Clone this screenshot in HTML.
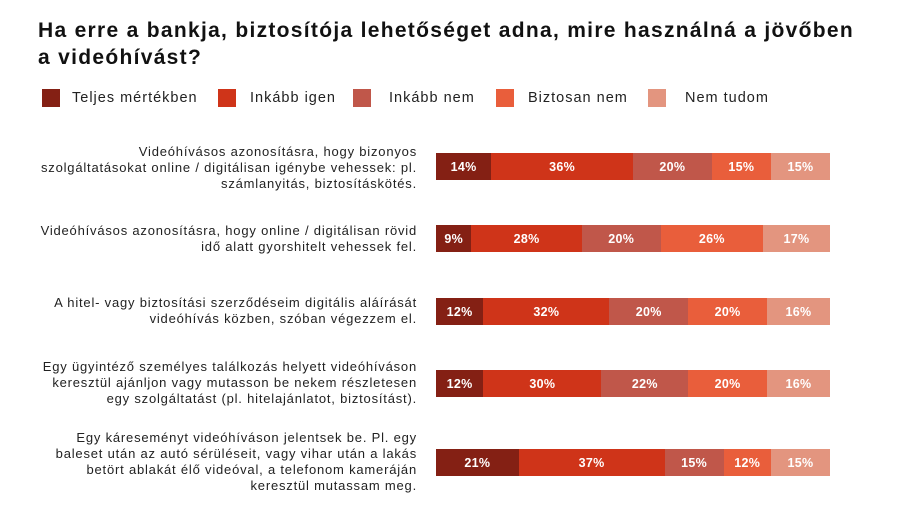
<!DOCTYPE html>
<html><head><meta charset="utf-8"><style>
body{margin:0;width:900px;height:520px;background:#fff;font-family:"Liberation Sans",sans-serif;position:relative;overflow:hidden;color:#111}
.t{position:absolute;left:38px;top:17px;font-size:21px;font-weight:bold;line-height:27px;width:860px;letter-spacing:1.3px;white-space:nowrap}
.lg{position:absolute;top:89px;height:18px;font-size:14.5px;line-height:18px;color:#222;letter-spacing:1px}
.lg i{position:absolute;left:0;top:0;width:18px;height:18px}
.lg span{position:absolute;white-space:nowrap}
.lab{position:absolute;right:483px;text-align:right;font-size:13px;line-height:16px;width:420px;color:#222;letter-spacing:0.8px;white-space:nowrap}
.bar{position:absolute;left:436px;width:394px;height:27px;display:flex}
.bar div{height:100%;color:#fff;font-weight:bold;font-size:12.5px;display:flex;align-items:center;justify-content:center;letter-spacing:0.3px}
.a{background:#842014}.b{background:#cf3419}.c{background:#c0574a}.d{background:#e95e3b}.e{background:#e3957f}
</style></head><body>
<div class="t">Ha erre a bankja, biztosítója lehetőséget adna, mire használná a jövőben<br>a videóhívást?</div>
<div class="lg" style="left:42px"><i class="a"></i><span style="left:30px">Teljes mértékben</span></div>
<div class="lg" style="left:218px"><i class="b"></i><span style="left:32px">Inkább igen</span></div>
<div class="lg" style="left:353px"><i class="c"></i><span style="left:36px">Inkább nem</span></div>
<div class="lg" style="left:496px"><i class="d"></i><span style="left:32px">Biztosan nem</span></div>
<div class="lg" style="left:648px"><i class="e"></i><span style="left:37px">Nem tudom</span></div>

<div class="lab" style="top:144px">Videóhívásos azonosításra, hogy bizonyos<br>szolgáltatásokat online / digitálisan igénybe vehessek: pl.<br>számlanyitás, biztosításkötés.</div>
<div class="bar" style="top:153px"><div class="a" style="width:14%">14%</div><div class="b" style="width:36%">36%</div><div class="c" style="width:20%">20%</div><div class="d" style="width:15%">15%</div><div class="e" style="width:15%">15%</div></div>

<div class="lab" style="top:223px">Videóhívásos azonosításra, hogy online / digitálisan rövid<br>idő alatt gyorshitelt vehessek fel.</div>
<div class="bar" style="top:225px"><div class="a" style="width:9%">9%</div><div class="b" style="width:28%">28%</div><div class="c" style="width:20%">20%</div><div class="d" style="width:26%">26%</div><div class="e" style="width:17%">17%</div></div>

<div class="lab" style="top:295px">A hitel- vagy biztosítási szerződéseim digitális aláírását<br>videóhívás közben, szóban végezzem el.</div>
<div class="bar" style="top:298px"><div class="a" style="width:12%">12%</div><div class="b" style="width:32%">32%</div><div class="c" style="width:20%">20%</div><div class="d" style="width:20%">20%</div><div class="e" style="width:16%">16%</div></div>

<div class="lab" style="top:359px">Egy ügyintéző személyes találkozás helyett videóhíváson<br>keresztül ajánljon vagy mutasson be nekem részletesen<br>egy szolgáltatást (pl. hitelajánlatot, biztosítást).</div>
<div class="bar" style="top:370px"><div class="a" style="width:12%">12%</div><div class="b" style="width:30%">30%</div><div class="c" style="width:22%">22%</div><div class="d" style="width:20%">20%</div><div class="e" style="width:16%">16%</div></div>

<div class="lab" style="top:430px">Egy káreseményt videóhíváson jelentsek be. Pl. egy<br>baleset után az autó sérüléseit, vagy vihar után a lakás<br>betört ablakát élő videóval, a telefonom kameráján<br>keresztül mutassam meg.</div>
<div class="bar" style="top:449px"><div class="a" style="width:21%">21%</div><div class="b" style="width:37%">37%</div><div class="c" style="width:15%">15%</div><div class="d" style="width:12%">12%</div><div class="e" style="width:15%">15%</div></div>
</body></html>
